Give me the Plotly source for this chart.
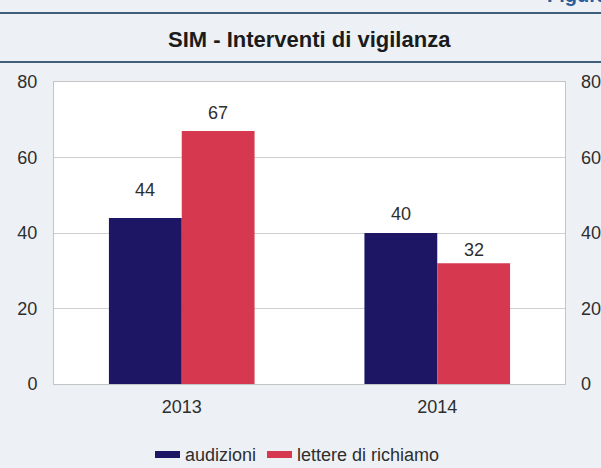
import plotly.graph_objects as go

# Data
years = ["2013", "2014"]
audizioni = [44, 40]
lettere = [67, 32]
series_names = ["audizioni", "lettere di richiamo"]
y_ticks = [0, 20, 40, 60, 80]

NAVY = "#1d1665"
RED = "#d6394f"
TXT = "#2e2e2e"
FONT = "Liberation Sans, Arial, sans-serif"

W, H = 601, 468
ML, MR, MT, MB = 54, 36, 82, 84
PW, PH = W - ML - MR, H - MT - MB


def px_x(x):
    return (x - ML) / PW


def px_y(y):
    return (H - MB - y) / PH


fig = go.Figure()
fig.add_trace(go.Bar(x=years, y=audizioni, name=series_names[0],
                     marker=dict(color=NAVY, line=dict(width=0))))
fig.add_trace(go.Bar(x=years, y=lettere, name=series_names[1],
                     marker=dict(color=RED, line=dict(width=0))))
# transparent companion trace so the right-hand axis is drawn
fig.add_trace(go.Scatter(x=years, y=audizioni, yaxis="y2", mode="markers",
                         marker=dict(opacity=0), showlegend=False,
                         hoverinfo="skip"))

# value labels above each bar
label_gap = {(0, 0): 28, (0, 1): 19, (1, 0): 18, (1, 1): 13}
annotations = []
for s, vals in enumerate([audizioni, lettere]):
    for i, v in enumerate(vals):
        annotations.append(dict(
            x=i, y=v, xref="x", yref="y", text=str(v),
            showarrow=False, yanchor="middle", yshift=label_gap[(s, i)],
            xshift=-36.5 if s == 0 else 36.5,
            font=dict(family=FONT, size=18, color=TXT)))

# title
annotations.append(dict(
    x=0.5, y=px_y(40), xref="paper", yref="paper", xanchor="center",
    yanchor="middle", showarrow=False, text="<b>SIM - Interventi di vigilanza</b>",
    font=dict(family=FONT, size=22, color="#1b1b1b")))
annotations.append(dict(
    x=px_x(545), y=px_y(-5), xref="paper", yref="paper", xanchor="left",
    yanchor="middle", showarrow=False, text="<b>Figura 8.</b>",
    font=dict(family=FONT, size=20, color="#2b5d9b")))

shapes = [
    dict(type="line", xref="paper", yref="paper", x0=px_x(0), x1=px_x(W),
         y0=px_y(13), y1=px_y(13), line=dict(color="#3f5f78", width=2)),
    dict(type="line", xref="paper", yref="paper", x0=px_x(0), x1=px_x(W),
         y0=px_y(62), y1=px_y(62), line=dict(color="#3f5f78", width=2)),
]

# legend drawn as swatches with labels
legend_items = [(155, NAVY, series_names[0]), (267, RED, series_names[1])]
for x0, col, name in legend_items:
    shapes.append(dict(type="rect", xref="paper", yref="paper",
                       x0=px_x(x0), x1=px_x(x0 + 25),
                       y0=px_y(458), y1=px_y(451),
                       fillcolor=col, line=dict(width=0)))
    annotations.append(dict(
        x=px_x(x0 + 28), y=px_y(455), xref="paper", yref="paper",
        xanchor="left", yanchor="middle", showarrow=False, text=name,
        font=dict(family=FONT, size=18, color=TXT)))

axis_common = dict(range=[0, 80], tickvals=y_ticks, ticks="",
                   tickfont=dict(family=FONT, size=18, color=TXT),
                   zeroline=False, fixedrange=True, automargin=False)

fig.update_layout(
    width=W, height=H,
    margin=dict(l=ML, r=MR, t=MT, b=MB, pad=0, autoexpand=False),
    paper_bgcolor="#edf1f6",
    plot_bgcolor="#ffffff",
    barmode="group",
    bargap=0.43,
    bargroupgap=0,
    showlegend=False,
    xaxis=dict(type="category", categoryorder="array", categoryarray=years,
               range=[-0.5, len(years) - 0.5], automargin=False,
               showgrid=False, ticks="", showline=True,
               linecolor="#c4c4c4", linewidth=1, mirror=True,
               tickfont=dict(family=FONT, size=18, color=TXT),
               ticklabelstandoff=6),
    yaxis=dict(**axis_common, showgrid=True, gridcolor="#cfcfcf", gridwidth=1,
               showline=True, linecolor="#c4c4c4", linewidth=1, mirror=True,
               ticklabelstandoff=12),
    yaxis2=dict(**axis_common, overlaying="y", side="right", showgrid=False,
                showline=False, ticklabelstandoff=15),
    annotations=annotations,
    shapes=shapes,
)

fig.write_html("out.html")
